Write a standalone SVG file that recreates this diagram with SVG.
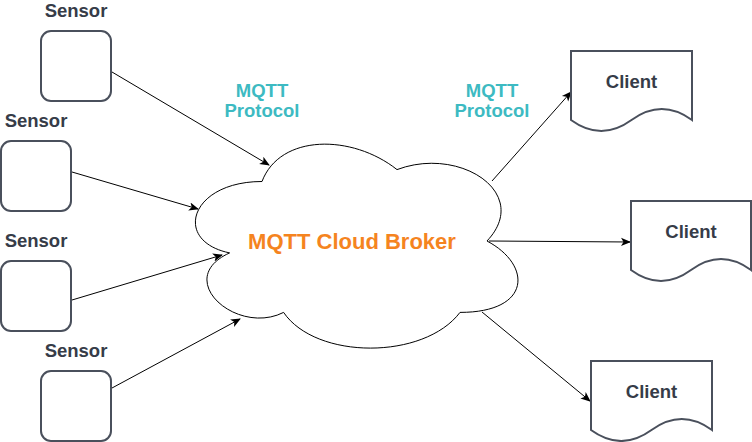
<svg xmlns="http://www.w3.org/2000/svg" width="752" height="442" viewBox="0 0 752 442">
<defs>
<style>
.box{fill:#fff;stroke:#4a505c;stroke-width:2}
.lbl{font-family:"Liberation Sans",Arial,sans-serif;font-weight:bold;font-size:18.5px;fill:#363c48;text-anchor:middle}
.proto{font-family:"Liberation Sans",Arial,sans-serif;font-weight:bold;font-size:18.5px;fill:#3dbac2;text-anchor:middle}
.broker{font-family:"Liberation Sans",Arial,sans-serif;font-weight:bold;font-size:22px;fill:#f5841f;text-anchor:middle}
.edge{fill:none;stroke:#000;stroke-width:1;marker-end:url(#arr)}
</style>
<marker id="arr" viewBox="0 0 10 10" refX="9" refY="5" markerWidth="10" markerHeight="10" markerUnits="userSpaceOnUse" orient="auto">
<path d="M0,0.8 L10,5 L0,9.2 L2.5,5 Z" fill="#000"/>
</marker>
</defs>
<rect width="752" height="442" fill="#fff"/>
<g id="connectors">
<line class="edge" x1="112" y1="72" x2="269" y2="165"/>
<line class="edge" x1="72" y1="172" x2="198" y2="209"/>
<line class="edge" x1="72" y1="300" x2="222" y2="255"/>
<line class="edge" x1="112" y1="388" x2="240" y2="319"/>
<line class="edge" x1="492" y1="181" x2="571" y2="92"/>
<line class="edge" x1="489" y1="241" x2="630" y2="242"/>
<line class="edge" x1="482" y1="312" x2="590" y2="401"/>
</g>
<g id="cloud">
<path d="M262,181.5 C190,181.5 172,241 229.6,252.9 C172,279.1 236.8,336.2 283.6,312.4 C316,360 424,360 460,312.4 C532,312.4 532,264.8 487,241 C532,193.4 460,145.8 397,169.6 C352,133.9 280,133.9 262,181.5 Z" fill="#fff" stroke="#000" stroke-width="1"/>
<text class="broker" x="352" y="249">MQTT Cloud Broker</text>
</g>
<g id="proto1">
<text class="proto" x="262" y="97">MQTT</text>
<text class="proto" x="262" y="117">Protocol</text>
</g>
<g id="proto2">
<text class="proto" x="492" y="97">MQTT</text>
<text class="proto" x="492" y="117">Protocol</text>
</g>
<g id="sensor1">
<text class="lbl" x="76" y="17">Sensor</text>
<rect class="box" x="41" y="31" width="70" height="70" rx="10"/>
</g>
<g id="sensor2">
<text class="lbl" x="36" y="127">Sensor</text>
<rect class="box" x="1" y="141" width="70" height="70" rx="10"/>
</g>
<g id="sensor3">
<text class="lbl" x="36" y="247">Sensor</text>
<rect class="box" x="1" y="261" width="70" height="70" rx="10"/>
</g>
<g id="sensor4">
<text class="lbl" x="76" y="357">Sensor</text>
<rect class="box" x="41" y="371" width="70" height="70" rx="10"/>
</g>
<g id="client1">
<path class="box" d="M571,51 H692 V120 Q661.75,98 631.5,120 T571,120 Z"/>
<text class="lbl" x="631.5" y="88">Client</text>
</g>
<g id="client2">
<path class="box" d="M631,201 H751 V270 Q721,248 691,270 T631,270 Z"/>
<text class="lbl" x="691" y="238">Client</text>
</g>
<g id="client3">
<path class="box" d="M591,361 H712 V430 Q681.75,408 651.5,430 T591,430 Z"/>
<text class="lbl" x="651.5" y="398">Client</text>
</g>
</svg>
